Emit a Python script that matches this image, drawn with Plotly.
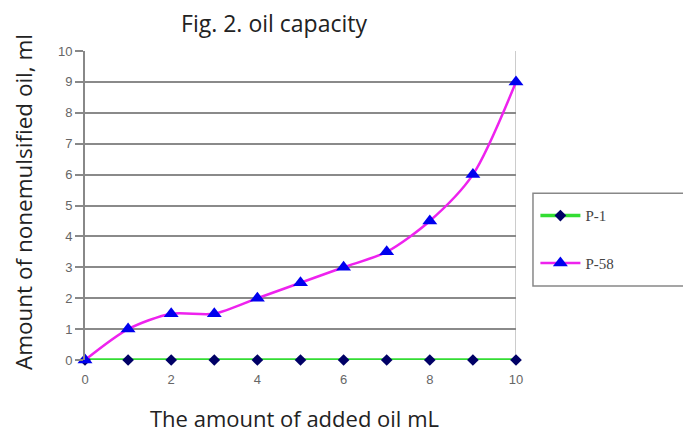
import plotly.graph_objects as go

x_vals = [0, 1, 2, 3, 4, 5, 6, 7, 8, 9, 10]
p1_vals = [0, 0, 0, 0, 0, 0, 0, 0, 0, 0, 0]
p58_vals = [0, 1, 1.5, 1.5, 2, 2.5, 3, 3.5, 4.5, 6, 9]

fig = go.Figure()
fig.add_trace(go.Scatter(
    x=x_vals, y=p1_vals, name="P-1", mode="lines+markers",
    line=dict(color="#33dd33", width=3.5),
    marker=dict(symbol="diamond", size=9, color="#000066"),
    legendgroup="a", cliponaxis=False))
fig.add_trace(go.Scatter(
    x=x_vals, y=p58_vals, name="P-58", mode="lines+markers",
    line=dict(color="#ee22ee", width=2.5, shape="spline", smoothing=0.8),
    marker=dict(symbol="triangle-up", size=13, color="#0000ee"),
    legendgroup="b", cliponaxis=False))

fig.update_layout(
    width=683, height=425,
    margin=dict(l=77, r=175, t=43, b=73, autoexpand=False),
    paper_bgcolor="white", plot_bgcolor="white",
    title=dict(text="Fig. 2. oil capacity", x=0.3895, xanchor="center", xref="container",
               y=0.962, yanchor="middle", yref="container",
               font=dict(family="Open Sans", size=23, color="#222222")),
    xaxis=dict(range=[0, 10], tickvals=[0, 2, 4, 6, 8, 10], showgrid=False,
               zeroline=False, showline=False, ticks="", ticklabelstandoff=10,
               tickfont=dict(family="Arial", size=13, color="#666666")),
    yaxis=dict(range=[0, 10], dtick=1, showgrid=True, gridcolor="#8a8a8a", gridwidth=2,
               zeroline=False, showline=True, linecolor="#888888", linewidth=2,
               ticks="outside", ticklen=8, tickcolor="#888888", tickwidth=1.5,
               tickfont=dict(family="Arial", size=13, color="#666666")),
    legend=dict(x=1.045, y=0.52, xanchor="left", yanchor="top",
                borderwidth=0, bgcolor="rgba(0,0,0,0)",
                font=dict(family="Liberation Serif", size=15, color="#444444"),
                tracegroupgap=25, itemwidth=40),
    showlegend=True,
)
# axis titles
fig.add_annotation(text="The amount of added oil mL", xref="paper", yref="paper",
                   x=0.487, y=-0.1877, xanchor="center", yanchor="middle", showarrow=False,
                   font=dict(family="Open Sans", size=22, color="#222222"))
fig.add_annotation(text="Amount of nonemulsified oil, ml", xref="paper", yref="paper",
                   x=-0.1439, y=0.511, xanchor="center", yanchor="middle", showarrow=False,
                   textangle=-90,
                   font=dict(family="Open Sans", size=22.5, color="#222222"))
# right border line at x=10
fig.add_shape(type="line", xref="x", yref="paper", x0=10, x1=10, y0=0, y1=1,
              line=dict(color="#cccccc", width=2), layer="below")
# legend frame
fig.add_shape(type="rect", xref="paper", yref="paper", x0=1.0394, x1=1.43, y0=0.2395, y1=0.540,
              line=dict(color="#888888", width=1.5), fillcolor="rgba(0,0,0,0)")

fig.write_html("out.html")
